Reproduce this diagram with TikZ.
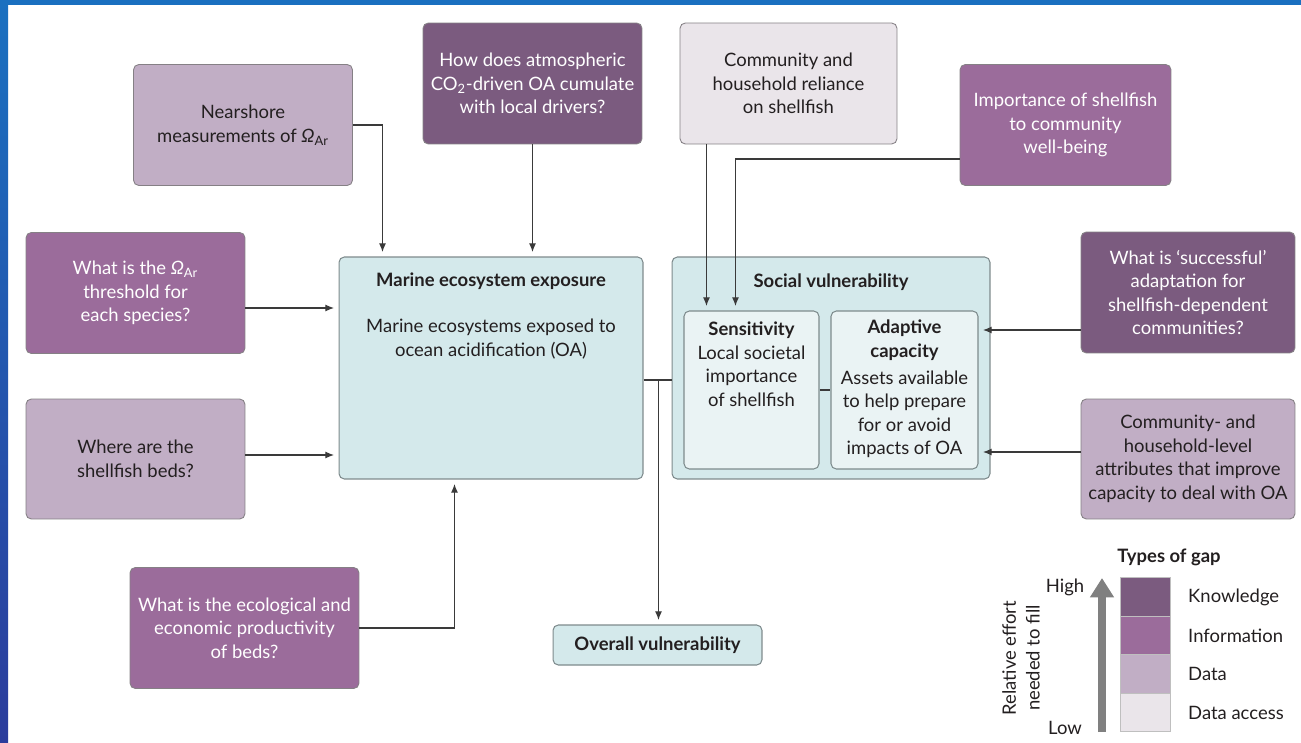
\documentclass[tikz,border=0pt]{standalone}
\usepackage{fontspec}
\setmainfont{Lato}
\usepackage{xcolor}
\definecolor{GapKnowledge}{HTML}{7B5B7F}
\definecolor{GapInformation}{HTML}{9B6C9B}
\definecolor{GapData}{HTML}{C1AEC5}
\definecolor{GapAccess}{HTML}{EAE5EA}
\definecolor{MainFill}{HTML}{D4E9EB}
\definecolor{InnerFill}{HTML}{EAF3F4}
\definecolor{MainEdge}{HTML}{7E8B8D}
\definecolor{BoxEdge}{HTML}{858085}
\definecolor{LineGrey}{HTML}{3A3A3A}
\definecolor{ArrowGrey}{HTML}{808080}
\definecolor{TextDark}{HTML}{231F20}
\definecolor{FrameBlue}{HTML}{1A70C0}
\definecolor{FrameDeep}{HTML}{2B3C9C}
\usepackage{tikz}
\usetikzlibrary{arrows.meta,positioning}

\begin{document}
\begin{tikzpicture}[x=0.02cm, y=-0.02cm, >={Latex[length=5pt,width=4pt]},
  every node/.style={font=\fontsize{10.5}{13.4}\selectfont, align=center, text=TextDark},
  gapbox/.style={draw=BoxEdge, line width=0.5pt, rounded corners=3pt, minimum width=4.38cm, minimum height=2.42cm, inner sep=2pt},
  knowledge/.style={gapbox, fill=GapKnowledge, text=white},
  information/.style={gapbox, fill=GapInformation, text=white},
  data/.style={gapbox, fill=GapData},
  dataaccess/.style={gapbox, fill=GapAccess},
  mainbox/.style={draw=MainEdge, line width=0.6pt, rounded corners=3pt, fill=MainFill},
  innerbox/.style={draw=MainEdge, line width=0.6pt, rounded corners=3pt, fill=InnerFill},
  headtext/.style={font=\fontsize{10.5}{13.4}\selectfont\bfseries},
  flow/.style={draw=LineGrey, line width=0.7pt, ->, shorten >=2.5pt},
  link/.style={draw=LineGrey, line width=0.7pt},
  swatch/.style={draw=black!25, line width=0.3pt, minimum width=1cm, minimum height=0.77cm, inner sep=0pt}]
  \useasboundingbox (0,0) rectangle (1301,743);
  \fill[white] (0,0) rectangle (1301,743);
  \fill[FrameBlue] (0,0) rectangle (1301,5);
  \shade[top color=FrameBlue, bottom color=FrameDeep] (0,0) rectangle (8,743);

  % gap boxes
  \node[data] (near) at (243,125) {Nearshore\\measurements of \textit{Ω}\textsubscript{Ar}};
  \node[knowledge] (atmo) at (532.5,83.5) {How does atmospheric\\CO\textsubscript{2}-driven OA cumulate\\with local drivers?};
  \node[dataaccess, minimum width=4.34cm] (relia) at (788.5,83.5) {Community and\\household reliance\\on shellfish};
  \node[information, minimum width=4.22cm] (impo) at (1065.5,125) {Importance of shellfish\\to community\\well-being};
  \node[information] (thresh) at (135.5,293) {What is the \textit{Ω}\textsubscript{Ar}\\threshold for\\each species?};
  \node[data, minimum height=2.4cm] (where) at (135.5,459) {Where are the\\shellfish beds?};
  \node[information, minimum width=4.58cm] (ecol) at (244.5,628) {What is the ecological and\\economic productivity\\of beds?};
  \node[knowledge, minimum width=4.28cm] (succ) at (1188,292.5) {What is `successful'\\adaptation for\\shellfish-dependent\\communities?};
  \node[data, minimum width=4.28cm, minimum height=2.4cm] (attr) at (1188,459) {Community- and\\household-level\\attributes that improve\\capacity to deal with OA};

  % vulnerability boxes
  \node[mainbox, minimum width=6.08cm, minimum height=4.44cm] (marine) at (491,368) {};
  \node[headtext] (marinehead) at (491,281) {Marine ecosystem exposure};
  \node (marinetext) at (491,339) {Marine ecosystems exposed to\\ocean acidification (OA)};
  \node[mainbox, minimum width=6.36cm, minimum height=4.44cm] (social) at (831,368) {};
  \node[headtext] (socialhead) at (831,282) {Social vulnerability};
  \node[innerbox, minimum width=2.7cm, minimum height=3.16cm] (sens) at (751.5,390) {};
  \node (senstext) at (751.5,364) {\textbf{Sensitivity}\\Local societal\\importance\\of shellfish};
  \node[innerbox, minimum width=2.94cm, minimum height=3.16cm] (adapt) at (904.5,390) {};
  \node (adapttext) at (904.5,389) {\textbf{Adaptive}\\\textbf{capacity}\\[2pt]Assets available\\to help prepare\\for or avoid\\impacts of OA};
  \node[mainbox, headtext, minimum width=4.18cm, minimum height=0.8cm] (overall) at (657.5,645) {Overall vulnerability};

  \coordinate (relfoot) at ([xshift=0.46cm]sens.north west);
  \coordinate (impfoot) at ([xshift=1.04cm]sens.north west);
  \coordinate (impout) at ([yshift=-0.68cm]impo.west);
  \coordinate (threshout) at ([yshift=-0.3cm]thresh.east);
  \coordinate (whereout) at ([yshift=0.08cm]where.east);
  \coordinate (succout) at ([yshift=-0.75cm]succ.west);
  \coordinate (attrout) at ([yshift=0.14cm]attr.west);
  \coordinate (marineout) at ([yshift=-0.24cm]marine.east);
  \coordinate (junc) at ([xshift=0.3cm]marineout);

  \draw[flow] (near.east) -| ([xshift=0.88cm]marine.north west);
  \draw[flow] (atmo.south) -- (atmo.south |- marine.north);
  \draw[flow] (relia.south -| relfoot) -- (relfoot);
  \draw[flow] (impout) -| (impfoot);
  \draw[flow] (threshout) -- (threshout -| marine.west);
  \draw[flow] (whereout) -- (whereout -| marine.west);
  \draw[flow] (ecol.east) -| ([xshift=2.32cm]marine.south west);
  \draw[flow] (succout) -- (succout -| adapt.east);
  \draw[flow] (attrout) -- (attrout -| adapt.east);
  \draw[link] (marineout) -- (marineout -| social.west);
  \draw[link] (sens.east) -- (adapt.west);
  \draw[flow] (junc) -- (junc |- overall.north);

  % legend
  \node[headtext] (gaptitle) at (1169,557) {Types of gap};
  \node[swatch, fill=GapKnowledge] (swknow) at (1145,597) {};
  \node[swatch, fill=GapInformation] (swinfo) at (1145,635.5) {};
  \node[swatch, fill=GapData] (swdata) at (1145,674) {};
  \node[swatch, fill=GapAccess] (swaccess) at (1145,712.5) {};
  \node[anchor=west] (lbknow) at (1182,597) {Knowledge};
  \node[anchor=west] (lbinfo) at (1182,635.5) {Information};
  \node[anchor=west] (lbdata) at (1182,674) {Data};
  \node[anchor=west] (lbaccess) at (1182,712.5) {Data access};
  \coordinate (effortlow) at (1102,732);
  \coordinate (efforthigh) at (1102,578);
  \draw[line width=4.5pt, draw=ArrowGrey, -{Triangle[length=11pt,width=13pt]}] (effortlow) -- (efforthigh);
  \node (high) at (1065,587) {High};
  \node (low) at (1065,728) {Low};
  \node[rotate=90] (effort) at (1021,658) {Relative effort\\needed to fill};
\end{tikzpicture}
\end{document}
